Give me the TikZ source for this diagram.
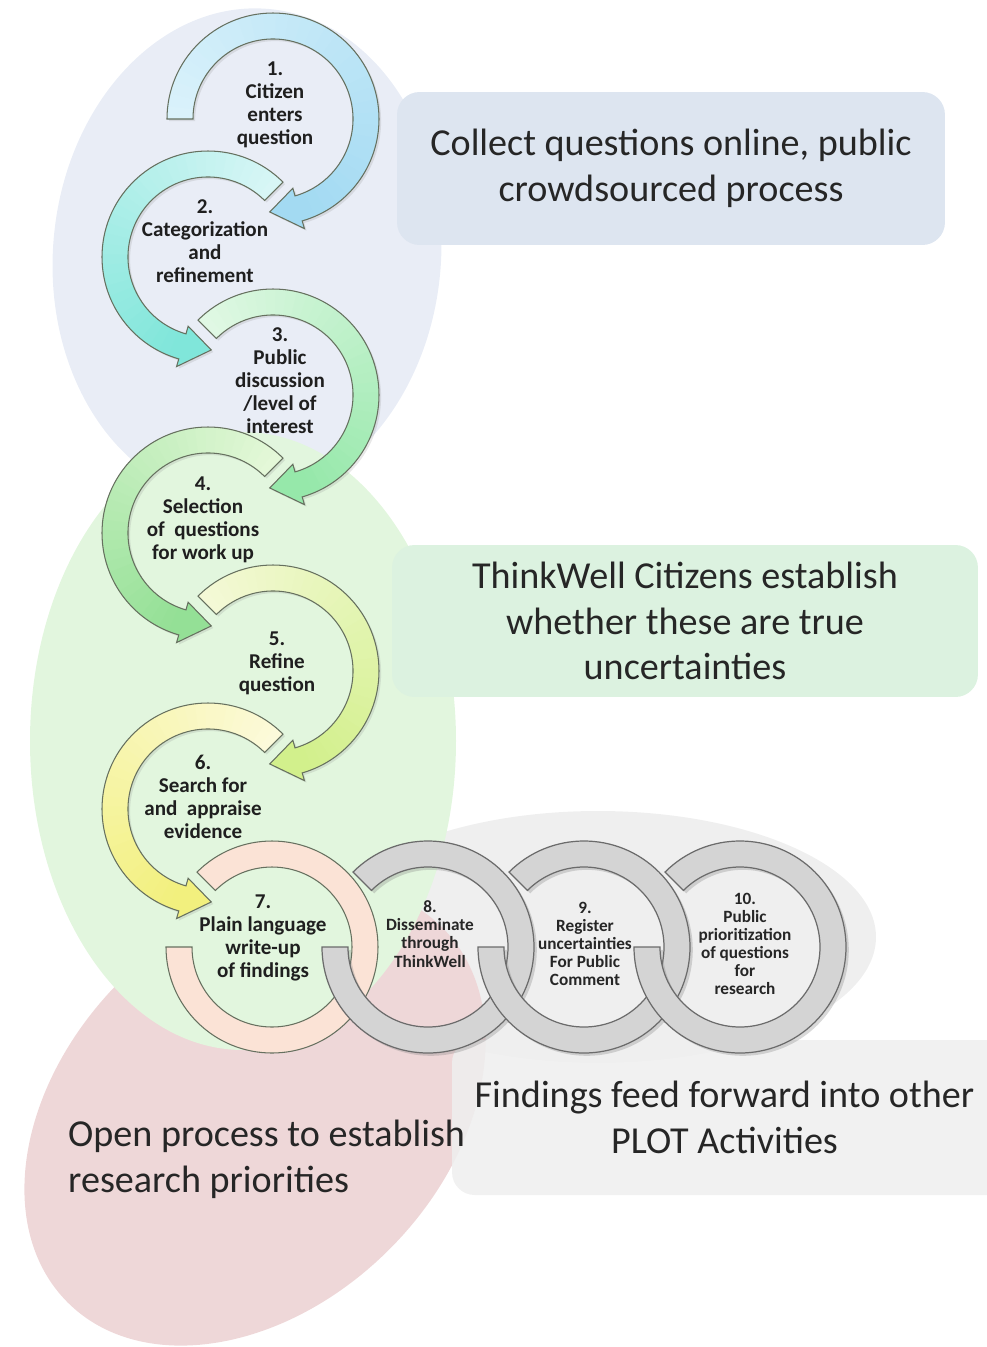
\documentclass[tikz,border=0pt]{standalone}
\usepackage{fontspec}
\setmainfont{Carlito}
\usetikzlibrary{shadows}

% backdrop
\definecolor{ellblue}{HTML}{E9EDF6}
\definecolor{ellgreen}{HTML}{E2F6DE}
\definecolor{ellpink}{HTML}{EED7D8}
\definecolor{ellgrey}{HTML}{EFEFEF}
\definecolor{boxblue}{HTML}{DDE5F0}
\definecolor{boxgreen}{HTML}{DCF2E0}
\definecolor{boxgrey}{HTML}{EFEFEF}
% arrow colours, pale tail -> strong head
\definecolor{skyA}{HTML}{DAF2FB}  \definecolor{skyB}{HTML}{A3DAF2}
\definecolor{aquaA}{HTML}{D8F6F6} \definecolor{aquaB}{HTML}{80E6DA}
\definecolor{mintA}{HTML}{E0F8E4} \definecolor{mintB}{HTML}{96E8AA}
\definecolor{leafA}{HTML}{E4F8D8} \definecolor{leafB}{HTML}{94E096}
\definecolor{limeA}{HTML}{F4F9D6} \definecolor{limeB}{HTML}{D2F08C}
\definecolor{sunA}{HTML}{FCFADA}  \definecolor{sunB}{HTML}{F2F07E}
\definecolor{peach}{HTML}{FBE3D6}
\definecolor{ringgrey}{HTML}{D4D4D4}
\definecolor{edge}{HTML}{66705F}

% band radii
\def\Ro{106} \def\Ri{80} \def\Rm{93} \def\Rwo{114} \def\Rwi{72}

\tikzset{
  steplabel/.style={font=\bfseries\fontsize{12}{13.1}\selectfont, align=center, text=black!88, inner sep=0pt},
  ringlabel/.style={font=\bfseries\fontsize{9.8}{10.3}\selectfont, align=center, text=black!85, inner sep=0pt},
  blurb/.style={font=\fontsize{21.7}{26}\selectfont, align=center, text=black!85},
  notebox/.style={blurb, rounded corners=0.45cm, inner sep=0pt},
  bandline/.style={draw=edge, line width=.6pt},
  greyring/.style={fill=ringgrey, draw=black!58, line width=.7pt,
    drop shadow={shadow xshift=1.6pt, shadow yshift=-1.6pt, opacity=.3}}
}

% curved arrow: centre, tail angle, head base angle, tip angle, pale colour, strong colour
\newcommand{\bendarrow}[6]{%
  \begin{scope}[shift={#1}]
    \fill[#6, drop shadow={shadow xshift=1.2pt, shadow yshift=-1.2pt, opacity=.18}]
      (#2:\Ro) arc[start angle=#2, end angle=#3, radius=\Ro] -- (#3:\Rwo) -- (#4:\Rm)
      -- (#3:\Rwi) -- (#3:\Ri) arc[start angle=#3, end angle=#2, radius=\Ri] -- cycle;
    \foreach \k in {0,...,35} {
      \pgfmathsetmacro\angA{#2+(#3-#2)*\k/36}
      \pgfmathsetmacro\angB{#2+(#3-#2)*min(\k+1.4,36)/36}
      \pgfmathtruncatemacro\mixp{100-100*\k/35}
      \fill[#5!\mixp!#6] (\angA:\Ro) arc[start angle=\angA, end angle=\angB, radius=\Ro]
        -- (\angB:\Ri) arc[start angle=\angB, end angle=\angA, radius=\Ri] -- cycle;
    }
    \draw[bandline]
      (#2:\Ro) arc[start angle=#2, end angle=#3, radius=\Ro] -- (#3:\Rwo) -- (#4:\Rm)
      -- (#3:\Rwi) -- (#3:\Ri) arc[start angle=#3, end angle=#2, radius=\Ri] -- cycle;
  \end{scope}
}

% open ring, gap at the upper left
\newcommand{\linkring}[2]{%
  \begin{scope}[shift={#1}]
    \path[#2] (135:\Ro) arc[start angle=135, end angle=-180, radius=\Ro]
      -- (180:\Ri) arc[start angle=-180, end angle=135, radius=\Ri] -- cycle;
  \end{scope}
}

\begin{document}
\begin{tikzpicture}[x=0.02cm, y=0.02cm]
\useasboundingbox (0,0) rectangle (987,-1347);

% groups behind the steps
\fill[ellblue, rotate around={-5:(247,-255)}] (247,-255) ellipse[x radius=194, y radius=247];
\fill[ellgrey] (598,-937) ellipse[x radius=278, y radius=126];
\fill[ellpink, rotate around={45:(255,-1115)}] (255,-1115) ellipse[x radius=265, y radius=190];
\fill[ellgreen] (243,-741) ellipse[x radius=213, y radius=309];

\node[notebox, fill=boxblue, minimum width=10.96cm, minimum height=3.06cm] (collect) at (671,-168.5)
  {Collect questions online, public\\crowdsourced process};
\node[notebox, fill=boxgreen, minimum width=11.72cm, minimum height=3.04cm] (establish) at (685,-621)
  {ThinkWell Citizens establish\\whether these are true\\uncertainties};
\node[notebox, fill=boxgrey, fill opacity=.85, text opacity=1, minimum width=11.2cm, minimum height=3.1cm] (feed) at (732,-1117.5)
  {\hspace*{-0.3cm}Findings feed forward into other\\\hspace*{-0.3cm}PLOT Activities};
\node[blurb, align=left, anchor=west] (open) at (62,-1159) {Open process to establish\\research priorities};

% steps 1-6
\bendarrow{(273,-119)}{180}{-74}{-92}{skyA}{skyB}
\bendarrow{(208,-257)}{45}{254}{272}{aquaA}{aquaB}
\bendarrow{(273,-395)}{135}{-74}{-92}{mintA}{mintB}
\bendarrow{(208,-533)}{45}{254}{272}{leafA}{leafB}
\bendarrow{(273,-671)}{135}{-74}{-92}{limeA}{limeB}
\bendarrow{(208,-809)}{45}{254}{272}{sunA}{sunB}

% steps 7-10, linked rings
\linkring{(272,-947)}{fill=peach, bandline}
\foreach \cx in {428,584,740} {\linkring{(\cx,-947)}{greyring}}

\node[steplabel] (s1) at (275,-105) {1.\\Citizen\\enters\\question};
\node[steplabel] (s2) at (205,-241) {2.\\Categorization\\and\\refinement};
\node[steplabel] (s3) at (280,-381) {3.\\Public\\discussion\\/level of\\interest};
\node[steplabel] (s4) at (203,-520) {4.\\Selection\\of~ questions\\for work up};
\node[steplabel] (s5) at (277,-663) {5.\\Refine\\question};
\node[steplabel] (s6) at (203,-797) {6.\\Search for\\and~ appraise\\evidence};
\node[steplabel] (s7) at (263,-938) {7.\\Plain language\\write-up\\of findings};
\node[ringlabel] (s8) at (430,-934) {8.\\Disseminate\\through\\ThinkWell};
\node[ringlabel] (s9) at (585,-944) {9.\\Register\\uncertainties\\For Public\\Comment};
\node[ringlabel] (s10) at (745,-944) {10.\\Public\\prioritization\\of questions\\for\\research};
\end{tikzpicture}
\end{document}
